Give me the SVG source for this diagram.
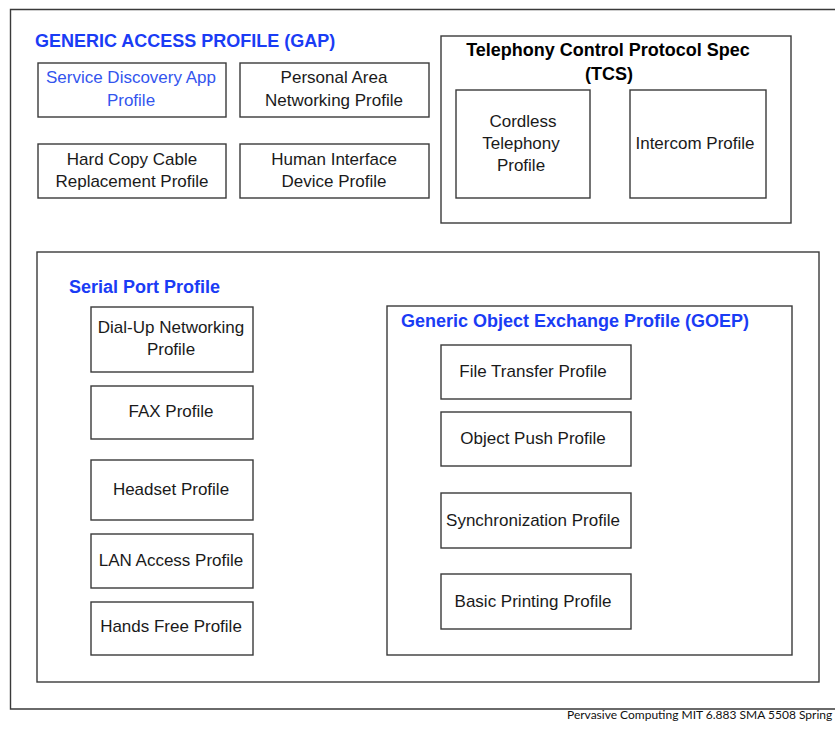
<svg xmlns="http://www.w3.org/2000/svg" width="835" height="729" viewBox="0 0 835 729">
<style>
.frame{fill:none;stroke:#3a3a3a;stroke-width:1.4}
.box{fill:#fff;stroke:#3a3a3a;stroke-width:1.4}
.t{font-family:"Liberation Sans",Arial,sans-serif;font-size:17px;fill:#1a1a1a;text-anchor:middle}
.h{font-family:"Liberation Sans",Arial,sans-serif;font-size:18px;font-weight:bold;fill:#1a3cf5}
.hk{font-family:"Liberation Sans",Arial,sans-serif;font-size:18px;font-weight:bold;fill:#000;text-anchor:middle}
.foot{font-family:Lato,"Open Sans",sans-serif;font-size:12px;fill:#111}
</style>
<rect width="835" height="729" fill="#fff"/>
<path class="frame" d="M836,9.5 H10.5 V709 H836"/>
<text class="foot" x="567" y="719">Pervasive Computing MIT 6.883 SMA 5508 Spring 2006</text>

<g id="gap">
<text class="h" x="35" y="47">GENERIC ACCESS PROFILE (GAP)</text>
<g id="sdap"><rect class="box" x="38" y="63" width="188" height="54"/><text class="t" x="131" y="83" style="fill:#3355ee">Service Discovery App</text><text class="t" x="131" y="106" style="fill:#3355ee">Profile</text></g>
<g id="pan"><rect class="box" x="240" y="63" width="189" height="54"/><text class="t" x="334" y="83">Personal Area</text><text class="t" x="334" y="106">Networking Profile</text></g>
<g id="hcrp"><rect class="box" x="38" y="144" width="188" height="54"/><text class="t" x="132" y="165">Hard Copy Cable</text><text class="t" x="132" y="187">Replacement Profile</text></g>
<g id="hid"><rect class="box" x="240" y="144" width="189" height="54"/><text class="t" x="334" y="165">Human Interface</text><text class="t" x="334" y="187">Device Profile</text></g>
</g>

<g id="tcs">
<rect class="box" x="441" y="36" width="350" height="187"/>
<text class="hk" x="608" y="56">Telephony Control Protocol Spec</text>
<text class="hk" x="609" y="80">(TCS)</text>
<g id="ctp"><rect class="box" x="456" y="90" width="134" height="108"/><text class="t" x="523" y="127">Cordless</text><text class="t" x="521" y="149">Telephony</text><text class="t" x="521" y="171">Profile</text></g>
<g id="icp"><rect class="box" x="630" y="90" width="136" height="108"/><text class="t" x="695" y="149">Intercom Profile</text></g>
</g>

<g id="spp">
<rect class="box" x="37" y="252" width="782" height="430"/>
<text class="h" x="69" y="293">Serial Port Profile</text>
<g id="dun"><rect class="box" x="91" y="307" width="162" height="65"/><text class="t" x="171" y="333">Dial-Up Networking</text><text class="t" x="171" y="355">Profile</text></g>
<g id="fax"><rect class="box" x="91" y="386" width="162" height="53"/><text class="t" x="171" y="417">FAX Profile</text></g>
<g id="hsp"><rect class="box" x="91" y="460" width="162" height="60"/><text class="t" x="171" y="495">Headset Profile</text></g>
<g id="lap"><rect class="box" x="91" y="534" width="162" height="54"/><text class="t" x="171" y="566">LAN Access Profile</text></g>
<g id="hfp"><rect class="box" x="91" y="602" width="162" height="53"/><text class="t" x="171" y="632">Hands Free Profile</text></g>

<g id="goep">
<rect class="box" x="387" y="306" width="405" height="349"/>
<text class="h" x="401" y="327">Generic Object Exchange Profile (GOEP)</text>
<g id="ftp"><rect class="box" x="441" y="345" width="190" height="54"/><text class="t" x="533" y="377">File Transfer Profile</text></g>
<g id="opp"><rect class="box" x="441" y="412" width="190" height="54"/><text class="t" x="533" y="444">Object Push Profile</text></g>
<g id="sync"><rect class="box" x="441" y="493" width="190" height="55"/><text class="t" x="533" y="526">Synchronization Profile</text></g>
<g id="bpp"><rect class="box" x="441" y="574" width="190" height="55"/><text class="t" x="533" y="607">Basic Printing Profile</text></g>
</g>
</g>
<g id="connectors"/>
</svg>
